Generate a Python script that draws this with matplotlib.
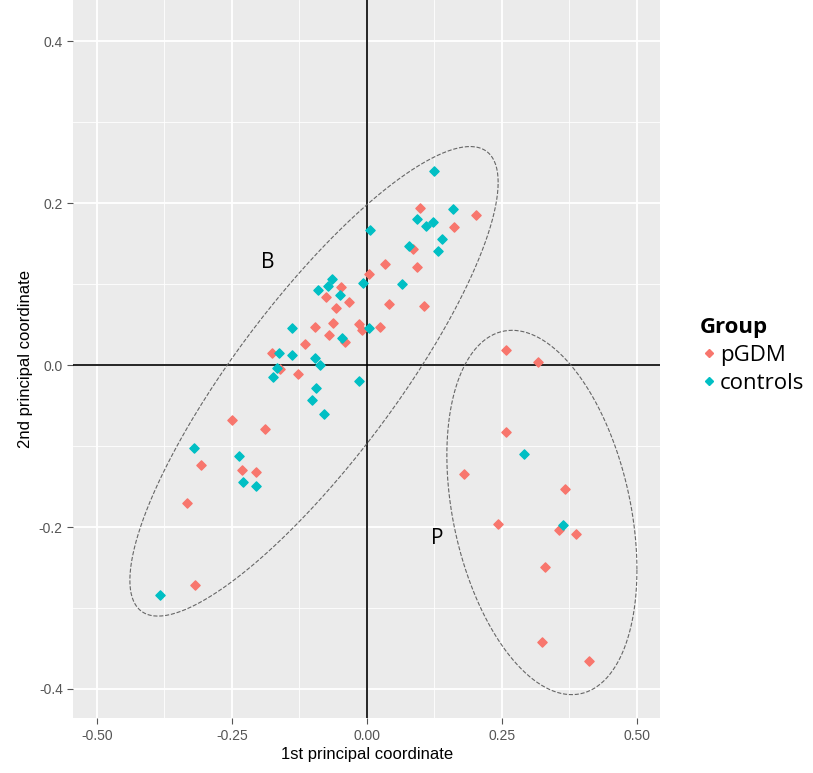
import numpy as np
import matplotlib
matplotlib.use('Agg')
import matplotlib.pyplot as plt
from matplotlib.lines import Line2D

plt.rcParams['font.family'] = ['Liberation Sans', 'DejaVu Sans']

# pGDM points
pgdm_x = [0.099, 0.202, 0.161, 0.086, 0.033, 0.092, 0.003, -0.048, -0.075, -0.034, 0.041, 0.106,
          -0.057, -0.062, -0.014, -0.009, -0.096, 0.025, -0.071, -0.040, -0.114, -0.176, -0.161,
          -0.128, -0.250, -0.188, -0.307, -0.231, -0.206, -0.333, -0.319,
          0.258, 0.317, 0.258, 0.180, 0.366, 0.242, 0.356, 0.388, 0.329, 0.325, 0.412]
pgdm_y = [0.194, 0.185, 0.171, 0.143, 0.125, 0.121, 0.113, 0.096, 0.084, 0.078, 0.075, 0.073,
          0.070, 0.052, 0.051, 0.044, 0.047, 0.047, 0.037, 0.028, 0.026, 0.015, -0.005,
          -0.011, -0.068, -0.079, -0.123, -0.129, -0.132, -0.170, -0.271,
          0.019, 0.004, -0.083, -0.134, -0.153, -0.196, -0.204, -0.209, -0.249, -0.342, -0.365]

# control points
ctrl_x = [0.125, 0.159, 0.092, 0.110, 0.123, 0.006, 0.139, 0.078, 0.131, -0.007, 0.065, -0.064,
          -0.073, -0.091, -0.050, 0.004, -0.139, -0.046, -0.162, -0.138, -0.096, -0.086, -0.167,
          -0.174, -0.015, -0.094, -0.102, -0.080, -0.320, -0.236, -0.229, -0.206, -0.383,
          0.291, 0.364]
ctrl_y = [0.240, 0.193, 0.180, 0.172, 0.177, 0.167, 0.156, 0.147, 0.141, 0.102, 0.100, 0.107,
          0.098, 0.093, 0.087, 0.046, 0.046, 0.033, 0.015, 0.013, 0.009, 0.000, -0.003,
          -0.015, -0.019, -0.028, -0.043, -0.060, -0.102, -0.112, -0.144, -0.149, -0.284,
          -0.110, -0.198]

RED = '#F8766D'
CYAN = '#00BFC4'

fig = plt.figure(figsize=(8.13, 7.73), dpi=100)
ax = fig.add_axes([0.09, 0.071, 0.722, 0.929])
ax.set_facecolor('#EBEBEB')
ax.set_xlim(-0.544, 0.543)
ax.set_ylim(-0.436, 0.451)
ax.set_xticks([-0.5, -0.25, 0, 0.25, 0.5])
ax.set_xticklabels(['-0.50', '-0.25', '0.00', '0.25', '0.50'])
ax.set_yticks([-0.4, -0.2, 0, 0.2, 0.4])
ax.set_yticklabels(['-0.4', '-0.2', '0.0', '0.2', '0.4'])
ax.set_xticks(np.arange(-0.375, 0.5, 0.25), minor=True)
ax.set_yticks(np.arange(-0.3, 0.4, 0.2), minor=True)
ax.grid(True, which='major', color='white', lw=1.3)
ax.grid(True, which='minor', color='white', lw=0.6)
ax.tick_params(which='both', length=4, color='#555555', labelcolor='#555555', labelsize=10)
ax.tick_params(which='minor', length=0)
ax.set_axisbelow(True)
for s in ax.spines.values():
    s.set_visible(False)

ax.axhline(0, color='black', lw=1.2)
ax.axvline(0, color='black', lw=1.2)

# dashed ellipses
t = np.linspace(0, 2 * np.pi, 300)
ax.plot(-0.098 + 0.341 * np.cos(t), -0.02 + 0.29 * np.cos(t - 0.56), ls='--', color='#666666', lw=0.8)
ax.plot(0.324 + 0.176 * np.cos(t), -0.182 + 0.225 * np.cos(t - 1.89), ls='--', color='#666666', lw=0.8)

ax.scatter(pgdm_x, pgdm_y, marker='D', s=22, color=RED, zorder=3)
ax.scatter(ctrl_x, ctrl_y, marker='D', s=22, color=CYAN, zorder=3)

ax.text(-0.183, 0.127, 'B', fontsize=15, ha='center', va='center', family='Open Sans')
ax.text(0.131, -0.214, 'P', fontsize=15, ha='center', va='center', family='Open Sans')

ax.set_xlabel('1st principal coordinate', fontsize=12, labelpad=3)
ax.set_ylabel('2nd principal coordinate', fontsize=12)

handles = [Line2D([], [], marker='D', ls='', color=RED, markersize=4.5),
           Line2D([], [], marker='D', ls='', color=CYAN, markersize=4.5)]
leg = fig.legend(handles, ['pGDM', 'controls'], loc='upper left', bbox_to_anchor=(0.853, 0.598),
                 frameon=False, title='Group', handletextpad=0.1, handlelength=0.8,
                 borderaxespad=0, borderpad=0.3, labelspacing=0.3,
                 prop={'family': 'Open Sans', 'size': 16},
                 title_fontproperties={'family': 'Open Sans', 'weight': 'bold', 'size': 16})
leg._legend_box.align = 'left'

fig.savefig('out.png', dpi=100)
